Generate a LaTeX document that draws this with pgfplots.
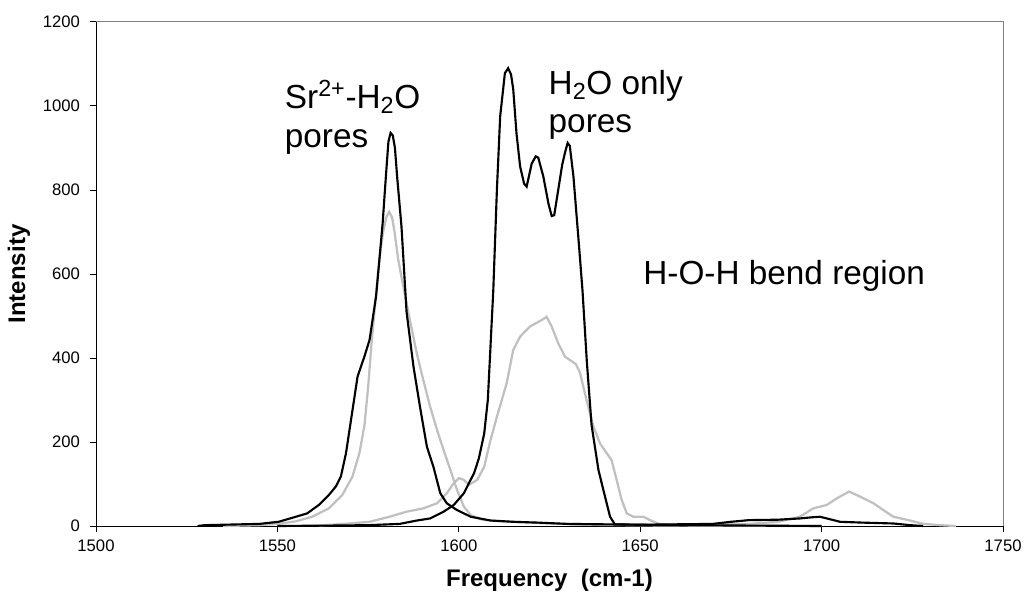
\documentclass[border=0pt]{standalone}
\usepackage{pgfplots}
\pgfplotsset{compat=1.18}
\usepackage{fontspec}
\setmainfont{Liberation Sans}
\definecolor{curvegray}{RGB}{192,192,192}
\definecolor{framegray}{RGB}{128,128,128}
\begin{document}
\begin{tikzpicture}
\useasboundingbox (-72pt,-58.5pt) rectangle (696pt,394.5pt);
\begin{axis}[
  at={(0,0)}, anchor=south west,
  scale only axis, width=680.25pt, height=378pt,
  xmin=1500, xmax=1750, ymin=0, ymax=1200,
  xtick={1500,1550,...,1750}, ytick={0,200,...,1200},
  axis x line*=bottom, axis y line*=left,
  axis line style={black, line width=0.75pt},
  tick align=outside, major tick length=4.5pt,
  tick style={black, line width=0.75pt},
  /pgf/number format/1000 sep={},
  /pgf/number format/assume math mode=true,
  tick label style={font=\fontsize{12.5}{14}\selectfont},
  xticklabel style={yshift=-2.5pt},
  yticklabel style={xshift=-4pt},
  xlabel={Frequency\ \ (cm-1)}, ylabel={Intensity},
  label style={font=\bfseries\fontsize{18}{21}\selectfont},
  xlabel style={at={(axis description cs:0.5,-0.108)}, anchor=center},
  ylabel style={at={(axis description cs:-0.0849,0.5)}, anchor=center},
  clip=false,
]
\draw[framegray, line width=0.75pt] (rel axis cs:0,1) -- (rel axis cs:1,1) -- (rel axis cs:1,0);
% gray, Sr2+ pores
\addplot[curvegray, line width=1.7pt] coordinates {
(1535,0) (1545,2) (1550,5) (1555,11) (1559.6,22) (1564.2,42) (1567.9,74) (1570.7,118)
(1572.6,173) (1574.0,240) (1575.0,330) (1576.0,440) (1577.2,555) (1578.2,640) (1579.1,698)
(1580.0,735) (1580.8,748) (1581.6,735) (1582.3,700) (1583.3,634) (1584.7,570) (1586.5,491)
(1588.4,412) (1590.2,348) (1592.1,284) (1594.0,229) (1595.8,181) (1597.7,133) (1599.5,86)
(1601.4,46) (1603.3,26) (1606,16) (1608.8,13) (1615,10) (1625,6) (1635,3) (1660,1) (1700,0)
};
% gray, H2O pores
\addplot[curvegray, line width=1.7pt] coordinates {
(1560,0) (1569.8,6) (1575.4,10) (1580.9,22) (1585.6,34) (1590.2,42) (1594,54) (1596.7,78)
(1598.6,102) (1600,114) (1601.4,110) (1602.8,98) (1605.1,110) (1607,141) (1608.6,200)
(1610.5,260) (1613.2,340) (1615,419) (1616.9,451) (1619.6,475) (1622.8,490) (1624.2,498)
(1625.6,475) (1627.4,435) (1629.3,403) (1631.0,393) (1632.3,385) (1633.4,365) (1635.2,300)
(1637.1,237) (1638.9,197) (1640.8,173) (1642.1,157) (1643.5,110) (1644.9,62) (1646.3,30)
(1648.1,22) (1650.9,22) (1652.7,14) (1655.5,4) (1665,3) (1680,5) (1688,10) (1694,22)
(1697.7,42) (1701.4,50) (1704.2,66) (1707.6,82) (1710.6,70) (1714.3,54) (1717,38)
(1719.8,22) (1724.4,13) (1728,5) (1732.6,2) (1737,0)
};
% black, Sr2+ pores
\addplot[black, line width=1.6pt] coordinates {
(1528,0) (1530,2) (1540,4) (1545,5) (1550.3,10) (1553.5,18) (1558.2,30) (1561.4,50)
(1564.2,74) (1566.1,94) (1567.5,118) (1568.9,173) (1570.7,276) (1572.1,356) (1574.0,404)
(1575.4,443) (1577.2,547) (1579.0,720) (1579.9,832) (1580.6,915) (1581.2,936) (1581.8,930)
(1582.4,900) (1583.0,832) (1584.2,713) (1585.6,510) (1587.5,380) (1589.3,284) (1591.2,189)
(1593.0,141) (1594.9,78) (1596.7,54) (1599.5,38) (1603.3,22) (1608.8,13) (1615,10)
(1622,8) (1630,5) (1640,4) (1660,2) (1700,0)
};
% black, H2O pores
\addplot[black, line width=1.6pt] coordinates {
(1550,0) (1565,1) (1575,2) (1583.7,5) (1588.4,13) (1592.1,18) (1595.8,34) (1598.6,50)
(1601.4,78) (1604.2,126) (1605.5,160) (1607,220) (1608,300) (1609.5,560) (1610.5,800)
(1611.4,975) (1612.7,1078) (1613.6,1090) (1614.4,1075) (1615.0,1040) (1615.9,935)
(1616.9,856) (1618.0,815) (1618.7,808) (1620.1,863) (1621.2,880) (1621.9,877) (1623.3,832)
(1624.7,768) (1625.6,738) (1626.3,740) (1627.4,800) (1628.5,860) (1629.3,890) (1630.0,912)
(1630.6,905) (1631.6,832) (1633.2,660) (1634.1,560) (1635.3,390) (1636.6,240) (1638.5,133)
(1640.3,70) (1641.7,22) (1643.0,4) (1650,3) (1660,4) (1670,5) (1675,10) (1680,14)
(1688,15) (1694,18) (1697.7,21) (1699.6,22) (1701.4,18) (1705.1,10) (1711.5,8)
(1719.8,6) (1724.4,2) (1728,0)
};
\node[anchor=base west, inner sep=0pt, font=\fontsize{25}{29}\selectfont] at (axis cs:1552,995) {Sr\textsuperscript{2+}-H\textsubscript{2}O};
\node[anchor=base west, inner sep=0pt, font=\fontsize{25}{29}\selectfont] at (axis cs:1552,900) {pores};
\node[anchor=base west, inner sep=0pt, font=\fontsize{25}{29}\selectfont] at (axis cs:1624.7,1027) {H\textsubscript{2}O only};
\node[anchor=base west, inner sep=0pt, font=\fontsize{25}{29}\selectfont] at (axis cs:1624.7,938) {pores};
\node[anchor=base west, inner sep=0pt, font=\fontsize{25}{29}\selectfont] at (axis cs:1650.8,575) {H-O-H bend region};
\end{axis}
\end{tikzpicture}
\end{document}
